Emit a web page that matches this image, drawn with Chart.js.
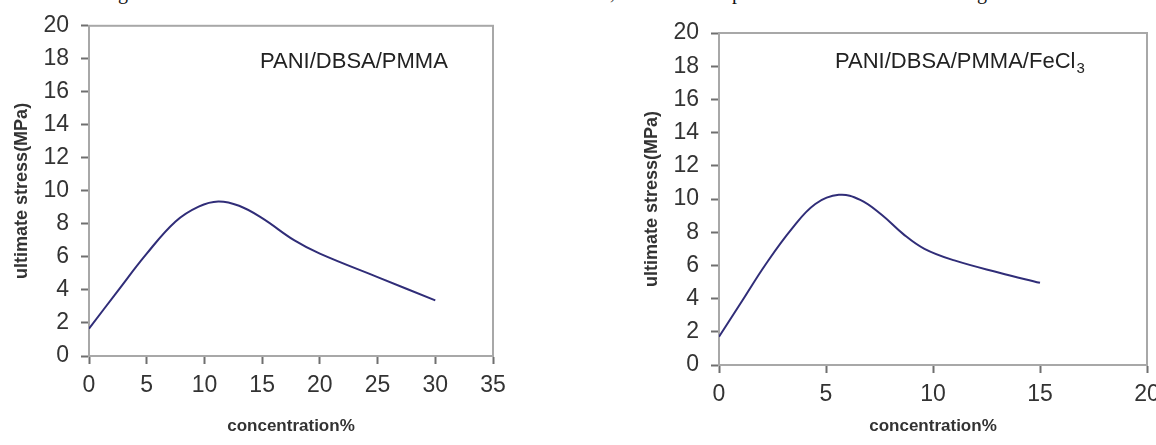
<!DOCTYPE html>
<html lang="en">
<head>
  <meta charset="UTF-8">
  <title>Ultimate stress vs concentration</title>
  <script src="https://cdn.jsdelivr.net/npm/chart.js"></script>
  <style>
    html, body { margin: 0; padding: 0; background: #fff; overflow: hidden; width: 1156px; height: 445px; }
    #leftChart { position: absolute; left: 0; top: 0; }
    #rightChart { position: absolute; left: 600px; top: 0; }
    .frag { position: absolute; top: -20px; font: 20px "Liberation Serif", serif; color: #111; line-height: 24px; }
  </style>
</head>
<body>
  <!-- bottoms of the cropped caption line above the figure -->
  <span class="frag" style="left:118px">g</span>
  <span class="frag" style="left:610px">,</span>
  <span class="frag" style="left:732px">p</span>
  <span class="frag" style="left:977px">g</span>

  <canvas id="leftChart" width="560" height="445"></canvas>
  <canvas id="rightChart" width="600" height="445"></canvas>

  <script>
    // PANI/DBSA/PMMA
    const concA = [0, 2.5, 5, 7.5, 9.5, 11.2, 13, 15, 17.8, 20, 25, 30];
    const stressA = [1.65, 3.95, 6.2, 8.15, 9.05, 9.36, 9.1, 8.35, 7.0, 6.2, 4.78, 3.37];

    // PANI/DBSA/PMMA/FeCl3
    const concB = [0, 1.1, 2.2, 3.4, 4.5, 5.6, 6.6, 7.6, 8.6, 9.6, 11, 13.1, 15];
    const stressB = [1.7, 3.9, 6.1, 8.2, 9.7, 10.25, 9.95, 9.05, 7.9, 7.0, 6.3, 5.56, 4.95];

    const yTicks = [0, 2, 4, 6, 8, 10, 12, 14, 16, 18, 20];
    const xTicksA = [0, 5, 10, 15, 20, 25, 30, 35];
    const xTicksB = [0, 5, 10, 15, 20];

    const lineColor = '#302d78';
    const axisColor = '#6f6f6f';
    const textColor = '#333';
    const sansFont = '"Liberation Sans", Arial, sans-serif';

    // light grey frame round the plot area
    const framePlugin = {
      id: 'frame',
      beforeDatasetsDraw(chart) {
        const { ctx, chartArea: a } = chart;
        ctx.save();
        ctx.strokeStyle = '#a8a8a8';
        ctx.lineWidth = 2;
        ctx.strokeRect(a.left, a.top, a.right - a.left, a.bottom - a.top);
        ctx.restore();
      }
    };

    // sample label inside the plot
    const labelPlugin = {
      id: 'sampleLabel',
      afterDraw(chart, args, opts) {
        const ctx = chart.ctx;
        ctx.save();
        ctx.fillStyle = '#222';
        ctx.textBaseline = 'middle';
        ctx.textAlign = 'left';
        ctx.font = '22px ' + sansFont;
        ctx.fillText(opts.text, opts.x, opts.y);
        if (opts.sub) {
          const w = ctx.measureText(opts.text).width;
          ctx.font = '15px ' + sansFont;
          ctx.fillText(opts.sub, opts.x + w + 1, opts.y + 7);
        }
        ctx.restore();
      }
    };

    function makeChart(id, xs, ys, xTicks, xMax, pad, yWidth, xHeight, label) {
      const ctx = document.getElementById(id).getContext('2d');
      return new Chart(ctx, {
        type: 'scatter',
        data: {
          datasets: [{
            data: xs.map((x, i) => ({ x: x, y: ys[i] })),
            showLine: true,
            borderColor: lineColor,
            borderWidth: 2,
            pointRadius: 0,
            tension: 0.4
          }]
        },
        options: {
          responsive: false,
          animation: false,
          layout: { padding: pad },
          plugins: {
            legend: { display: false },
            tooltip: { enabled: false },
            sampleLabel: label
          },
          scales: {
            x: {
              type: 'linear',
              min: 0,
              max: xMax,
              afterBuildTicks: (s) => { s.ticks = xTicks.map(v => ({ value: v })); },
              afterFit: (s) => { s.height = xHeight; },
              grid: { drawOnChartArea: false, color: axisColor, tickLength: 8, tickWidth: 2 },
              border: { color: axisColor, width: 2 },
              ticks: { color: textColor, font: { family: sansFont, size: 23 }, padding: 8, maxRotation: 0 },
              title: {
                display: true,
                text: 'concentration%',
                color: textColor,
                font: { family: sansFont, size: 17, weight: 'bold' },
                padding: { top: 0, bottom: 8 }
              }
            },
            y: {
              min: 0,
              max: 20,
              afterBuildTicks: (s) => { s.ticks = yTicks.map(v => ({ value: v })); },
              afterFit: (s) => { s.width = yWidth; },
              grid: { drawOnChartArea: false, color: axisColor, tickLength: 8, tickWidth: 2 },
              border: { color: axisColor, width: 2 },
              ticks: { color: textColor, font: { family: sansFont, size: 23 }, padding: 12 },
              title: {
                display: true,
                text: 'ultimate stress(MPa)',
                color: textColor,
                font: { family: sansFont, size: 18, weight: 'bold' },
                padding: { top: 11, bottom: 0 }
              }
            }
          }
        },
        plugins: [framePlugin, labelPlugin]
      });
    }

    makeChart('leftChart', concA, stressA, xTicksA, 35,
      { left: 0, top: 24, right: 67, bottom: 0 }, 89, 89,
      { text: 'PANI/DBSA/PMMA', x: 260, y: 62 });

    makeChart('rightChart', concB, stressB, xTicksB, 20,
      { left: 30, top: 33, right: 53, bottom: 0 }, 89, 80,
      { text: 'PANI/DBSA/PMMA/FeCl', sub: '3', x: 235, y: 62 });
  </script>
</body>
</html>
